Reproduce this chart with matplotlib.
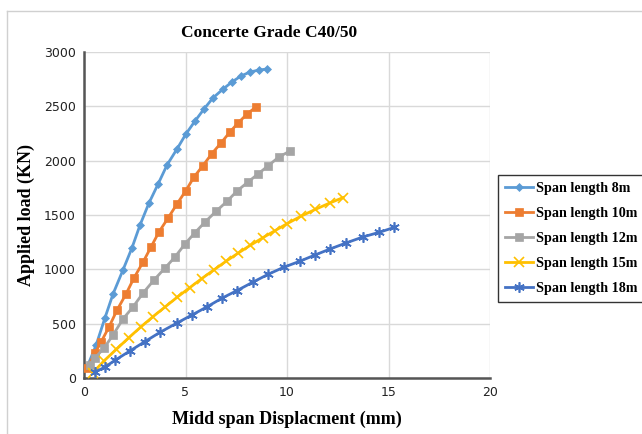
import matplotlib.pyplot as plt
from matplotlib.lines import Line2D

# load-displacement readings for each span, concrete grade C40/50
x_8m = [0.15, 0.6, 1.03, 1.43, 1.92, 2.36, 2.76, 3.2, 3.65, 4.09, 4.58,
        5.02, 5.47, 5.91, 6.35, 6.85, 7.29, 7.73, 8.18, 8.62, 9.0]
y_8m = [100, 304, 552, 773, 994, 1196, 1408, 1610, 1785, 1960, 2107,
        2245, 2365, 2475, 2577, 2659, 2724, 2779, 2816, 2834, 2843]

x_10m = [0.15, 0.54, 0.84, 1.23, 1.63, 2.07, 2.46, 2.91, 3.3, 3.69, 4.14,
         4.58, 5.02, 5.42, 5.86, 6.3, 6.75, 7.19, 7.59, 8.03, 8.47]
y_10m = [90, 230, 331, 469, 626, 773, 920, 1067, 1205, 1343, 1472,
         1601, 1725, 1850, 1955, 2065, 2163, 2264, 2347, 2429, 2494]

x_12m = [0.3, 0.54, 0.99, 1.43, 1.92, 2.41, 2.91, 3.45, 3.99, 4.48, 4.98,
         5.47, 5.96, 6.5, 7.04, 7.54, 8.08, 8.57, 9.06, 9.6, 10.15]
y_12m = [120, 184, 276, 396, 543, 653, 782, 902, 1012, 1113, 1235,
         1338, 1435, 1533, 1625, 1721, 1804, 1877, 1951, 2034, 2089]

x_15m = [0.44, 1.0, 1.6, 2.2, 2.8, 3.4, 4.0, 4.6, 5.2, 5.8, 6.4,
         7.0, 7.6, 8.2, 8.8, 9.4, 10.0, 10.7, 11.4, 12.1, 12.76]
y_15m = [50, 160, 265, 370, 470, 565, 655, 745, 830, 915, 995,
         1075, 1150, 1222, 1290, 1355, 1420, 1490, 1552, 1610, 1660]

x_18m = [0.54, 1.03, 1.55, 2.27, 3.0, 3.74, 4.58, 5.32, 6.06, 6.8, 7.54,
         8.33, 9.08, 9.85, 10.64, 11.38, 12.12, 12.9, 13.74, 14.53, 15.27]
y_18m = [55, 100, 166, 250, 335, 420, 506, 580, 655, 735, 805,
         883, 955, 1020, 1075, 1132, 1187, 1242, 1298, 1340, 1385]

labels = ["Span length 8m", "Span length 10m", "Span length 12m",
          "Span length 15m", "Span length 18m"]

series = [
    (x_8m, y_8m, "#5B9BD5", "D", 4),
    (x_10m, y_10m, "#ED7D31", "s", 5.5),
    (x_12m, y_12m, "#A5A5A5", "s", 5.5),
    (x_15m, y_15m, "#FFC000", "x", 7),
    (x_18m, y_18m, "#4472C4", (6, 2, 0), 7.5),
]

serif = ["Liberation Serif", "DejaVu Serif"]

fig = plt.figure(figsize=(6.42, 4.34), dpi=100)
ax = fig.add_axes([84 / 642, 1 - 378 / 434, 406 / 642, 326 / 434])

for (xs, ys, c, m, ms), lab in zip(series, labels):
    mew = 1.2 if m == "x" or isinstance(m, tuple) else 0.5
    ax.plot(xs, ys, color=c, lw=2, marker=m, ms=ms, mew=mew,
            mec=c, mfc=c, label=lab, zorder=3)

ax.set_xlim(0, 20)
ax.set_ylim(0, 3000)
ax.set_xticks([0, 5, 10, 15, 20])
ax.set_yticks(range(0, 3001, 500))
ax.grid(True, color="#d9d9d9", lw=1)
ax.set_axisbelow(True)
ax.tick_params(length=0, labelsize=9, colors="#222222", pad=6)
for s in ("top", "right"):
    ax.spines[s].set_visible(False)
for s in ("left", "bottom"):
    ax.spines[s].set_color("#555555")
    ax.spines[s].set_linewidth(1.8)

fig.text(269 / 642, 1 - 33 / 434, "Concerte Grade C40/50", family=serif,
         fontweight="bold", fontsize=12.5, ha="center", va="center")
ax.set_xlabel("Midd span Displacment (mm)", family=serif, fontweight="bold",
              fontsize=13, labelpad=8)
ax.set_ylabel("Applied load (KN)", family=serif, fontweight="bold",
              fontsize=13, labelpad=6)

leg = fig.legend(loc="upper left", bbox_to_anchor=(498 / 642, 1 - 175 / 434),
                 prop={"family": serif, "weight": "bold", "size": 10.2},
                 frameon=True, fancybox=False, edgecolor="black",
                 handlelength=2.0, handletextpad=0.15, labelspacing=0.85,
                 borderpad=0.5, borderaxespad=0)
leg.get_frame().set_linewidth(1)

# light frame around the chart area
fig.add_artist(Line2D([7 / 642, 7 / 642], [0, 1 - 11 / 434],
                      transform=fig.transFigure, color="#d0d0d0", lw=1))
fig.add_artist(Line2D([7 / 642, 1], [1 - 11 / 434, 1 - 11 / 434],
                      transform=fig.transFigure, color="#d0d0d0", lw=1))

fig.savefig("out.png", dpi=100)
